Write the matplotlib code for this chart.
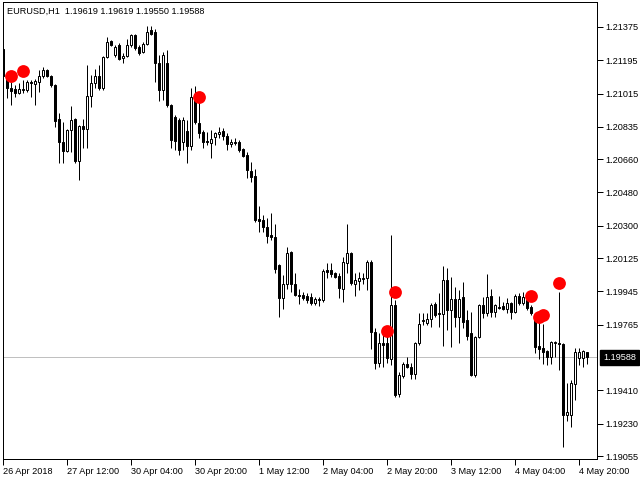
import numpy as np
import matplotlib
matplotlib.use('Agg')
import matplotlib.pyplot as plt
import matplotlib.transforms as mtransforms

symbol_title = 'EURUSD,H1  1.19619 1.19619 1.19550 1.19588'

opens = [1.21256, 1.21099, 1.21045, 1.21040, 1.21018, 1.21034, 1.21034, 1.21078, 1.21067, 1.21078,
         1.21110, 1.21142, 1.21110, 1.21061, 1.20877, 1.20753, 1.20704, 1.20818, 1.20877, 1.20650,
         1.20840, 1.20823, 1.21002, 1.21072, 1.21110, 1.21045, 1.21213, 1.21299, 1.21224, 1.21278,
         1.21207, 1.21218, 1.21278, 1.21332, 1.21267, 1.21240, 1.21283, 1.21359, 1.21348, 1.21180,
         1.21034, 1.21180, 1.20953, 1.20888, 1.20872, 1.20753, 1.20813, 1.20731, 1.20996, 1.20856,
         1.20807, 1.20759, 1.20748, 1.20780, 1.20796, 1.20813, 1.20786, 1.20742, 1.20753, 1.20753,
         1.20715, 1.20683, 1.20596, 1.20569, 1.20337, 1.20331, 1.20293, 1.20250, 1.20239, 1.20088,
         1.19909, 1.19985, 1.20158, 1.19985, 1.19926, 1.19926, 1.19920, 1.19915, 1.19882, 1.19904,
         1.19899, 1.20061, 1.20061, 1.20045, 1.20028, 1.19958, 1.20099, 1.20153, 1.19985, 1.20001,
         1.20012, 1.20018, 1.20104, 1.19725, 1.19558, 1.19666, 1.19666, 1.19579, 1.19872, 1.19390,
         1.19488, 1.19553, 1.19536, 1.19498, 1.19666, 1.19785, 1.19774, 1.19796, 1.19877, 1.19828,
         1.19823, 1.20007, 1.19844, 1.19904, 1.19807, 1.19915, 1.19790, 1.19720, 1.19493, 1.19698,
         1.19872, 1.19828, 1.19920, 1.19834, 1.19861, 1.19866, 1.19850, 1.19882, 1.19834, 1.19920,
         1.19882, 1.19899, 1.19861, 1.19807, 1.19650, 1.19639, 1.19623, 1.19590, 1.19666, 1.19666,
         1.19661, 1.19277, 1.19277, 1.19444, 1.19585, 1.19585, 1.19619]
highs = [1.21299, 1.21132, 1.21078, 1.21061, 1.21072, 1.21088, 1.21088, 1.21088, 1.21094, 1.21142,
         1.21159, 1.21148, 1.21115, 1.21066, 1.20910, 1.20861, 1.20823, 1.20948, 1.20883, 1.20845,
         1.20877, 1.21169, 1.21115, 1.21148, 1.21169, 1.21218, 1.21321, 1.21305, 1.21278, 1.21289,
         1.21234, 1.21310, 1.21337, 1.21337, 1.21278, 1.21294, 1.21380, 1.21380, 1.21364, 1.21224,
         1.21240, 1.21251, 1.20958, 1.20899, 1.20883, 1.20888, 1.20872, 1.21045, 1.21056, 1.20969,
         1.20818, 1.20807, 1.20818, 1.20807, 1.20834, 1.20829, 1.20802, 1.20769, 1.20775, 1.20764,
         1.20721, 1.20699, 1.20645, 1.20607, 1.20407, 1.20358, 1.20342, 1.20369, 1.20310, 1.20093,
         1.20034, 1.20185, 1.20163, 1.20045, 1.19958, 1.19942, 1.19936, 1.19936, 1.19915, 1.19915,
         1.20066, 1.20099, 1.20099, 1.20050, 1.20045, 1.20131, 1.20310, 1.20158, 1.20045, 1.20050,
         1.20045, 1.20115, 1.20115, 1.19747, 1.19720, 1.19747, 1.19720, 1.20250, 1.19899, 1.19509,
         1.19563, 1.19590, 1.19558, 1.19671, 1.19828, 1.19828, 1.19828, 1.19882, 1.19888, 1.19936,
         1.20082, 1.20072, 1.20023, 1.19969, 1.19953, 1.19996, 1.19844, 1.19834, 1.19704, 1.19877,
         1.19915, 1.20039, 1.19958, 1.19877, 1.19920, 1.19888, 1.19909, 1.19888, 1.19931, 1.19936,
         1.19942, 1.19926, 1.19872, 1.19818, 1.19780, 1.19769, 1.19628, 1.19677, 1.19677, 1.19942,
         1.19666, 1.19450, 1.19466, 1.19639, 1.19639, 1.19628, 1.19619]
lows = [1.21099, 1.20991, 1.20953, 1.20996, 1.21013, 1.21018, 1.21023, 1.20996, 1.20953, 1.21023,
        1.21099, 1.21105, 1.21051, 1.20834, 1.20639, 1.20639, 1.20699, 1.20699, 1.20639, 1.20548,
        1.20721, 1.20721, 1.20942, 1.21045, 1.21034, 1.21034, 1.21207, 1.21272, 1.21213, 1.21197,
        1.21180, 1.21213, 1.21267, 1.21251, 1.21224, 1.21234, 1.21278, 1.21332, 1.21078, 1.20975,
        1.20980, 1.20942, 1.20721, 1.20710, 1.20683, 1.20710, 1.20639, 1.20710, 1.20850, 1.20775,
        1.20721, 1.20737, 1.20667, 1.20737, 1.20775, 1.20764, 1.20710, 1.20726, 1.20737, 1.20699,
        1.20672, 1.20558, 1.20537, 1.20320, 1.20266, 1.20266, 1.20207, 1.20223, 1.20045, 1.19807,
        1.19850, 1.19958, 1.19942, 1.19920, 1.19877, 1.19899, 1.19882, 1.19872, 1.19872, 1.19866,
        1.19888, 1.20018, 1.20023, 1.20018, 1.19909, 1.19888, 1.20045, 1.19980, 1.19920, 1.19953,
        1.19985, 1.19953, 1.19634, 1.19525, 1.19536, 1.19536, 1.19558, 1.19547, 1.19374, 1.19374,
        1.19477, 1.19531, 1.19471, 1.19471, 1.19655, 1.19763, 1.19763, 1.19753, 1.19807, 1.19753,
        1.19650, 1.19736, 1.19644, 1.19753, 1.19666, 1.19747, 1.19682, 1.19488, 1.19482, 1.19693,
        1.19801, 1.19812, 1.19807, 1.19807, 1.19850, 1.19844, 1.19828, 1.19796, 1.19828, 1.19872,
        1.19872, 1.19844, 1.19818, 1.19612, 1.19579, 1.19553, 1.19547, 1.19553, 1.19590, 1.19520,
        1.19104, 1.19244, 1.19212, 1.19358, 1.19547, 1.19536, 1.19550]
closes = [1.21110, 1.21045, 1.21029, 1.21018, 1.21040, 1.21040, 1.21078, 1.21072, 1.21083, 1.21110,
          1.21142, 1.21110, 1.21061, 1.20867, 1.20753, 1.20704, 1.20818, 1.20872, 1.20650, 1.20840,
          1.20823, 1.21002, 1.21072, 1.21110, 1.21045, 1.21213, 1.21294, 1.21278, 1.21267, 1.21202,
          1.21218, 1.21278, 1.21332, 1.21261, 1.21234, 1.21283, 1.21348, 1.21337, 1.21180, 1.21034,
          1.21224, 1.20953, 1.20764, 1.20759, 1.20710, 1.20872, 1.20731, 1.20996, 1.20861, 1.20802,
          1.20753, 1.20753, 1.20769, 1.20802, 1.20807, 1.20786, 1.20742, 1.20753, 1.20748, 1.20710,
          1.20677, 1.20602, 1.20564, 1.20331, 1.20326, 1.20293, 1.20245, 1.20239, 1.20066, 1.19909,
          1.19985, 1.20153, 1.19985, 1.19926, 1.19920, 1.19909, 1.19899, 1.19882, 1.19904, 1.19899,
          1.20055, 1.20050, 1.20039, 1.20023, 1.19963, 1.20104, 1.20153, 1.19990, 1.20007, 1.20018,
          1.20018, 1.20104, 1.19725, 1.19558, 1.19666, 1.19655, 1.19585, 1.19872, 1.19385, 1.19493,
          1.19553, 1.19536, 1.19498, 1.19666, 1.19769, 1.19790, 1.19796, 1.19872, 1.19818, 1.19823,
          1.20007, 1.19844, 1.19904, 1.19807, 1.19904, 1.19780, 1.19704, 1.19493, 1.19698, 1.19872,
          1.19828, 1.19915, 1.19834, 1.19872, 1.19855, 1.19850, 1.19882, 1.19834, 1.19920, 1.19882,
          1.19915, 1.19855, 1.19828, 1.19644, 1.19634, 1.19617, 1.19590, 1.19671, 1.19671, 1.19661,
          1.19277, 1.19293, 1.19450, 1.19617, 1.19617, 1.19623, 1.19588]

# signal dots (bar index, price)
signal_bars = [2, 5, 49, 96, 98, 132, 134, 135, 139]
signal_prices = [1.21110, 1.21137, 1.20996, 1.19731, 1.19942, 1.19920, 1.19807, 1.19818, 1.19990]

price_ticks = [1.21375, 1.21195, 1.21015, 1.20835, 1.20660, 1.20480, 1.20300,
               1.20125, 1.19945, 1.19765, 1.19410, 1.19230, 1.19055]
time_labels = ['26 Apr 2018', '27 Apr 12:00', '30 Apr 04:00', '30 Apr 20:00', '1 May 12:00',
               '2 May 04:00', '2 May 20:00', '3 May 12:00', '4 May 04:00', '4 May 20:00']
label_step = 16
last_price = closes[-1]

plt.rcParams['font.family'] = ['Liberation Sans', 'DejaVu Sans']
FS = 6.6
PX = 0.72  # one pixel in points at 100 dpi

o = np.array(opens)
h = np.array(highs)
l = np.array(lows)
c = np.array(closes)
x = np.arange(len(o))
up = c >= o

fig = plt.figure(figsize=(6.4, 4.8), dpi=100)
ax = fig.add_axes([2.5 / 640, 21 / 480, 594.5 / 640, 457 / 480])

ax.axhline(last_price, color='#c0c0c0', lw=PX, zorder=1)
ax.vlines(x, l, h, color='black', lw=PX, zorder=2)
body_low = np.minimum(o, c)
body_h = np.maximum(np.abs(c - o), 1e-6)
ax.bar(x[up], body_h[up], bottom=body_low[up], width=0.45, facecolor='white',
       edgecolor='black', linewidth=PX, zorder=3)
ax.bar(x[~up], body_h[~up], bottom=body_low[~up], width=0.45, facecolor='black',
       edgecolor='black', linewidth=PX, zorder=3)
ax.scatter(signal_bars, signal_prices, s=85, color='#ff0000', linewidths=0, zorder=4)

ax.set_xlim(-0.125, 148.5)
ax.set_ylim(1.19039, 1.21510)

ax.yaxis.tick_right()
ax.set_yticks(price_ticks, labels=['%.5f' % v for v in price_ticks])
ax.tick_params(axis='y', length=4, width=PX, pad=2, labelsize=FS, colors='black')
ax.set_xticks(np.arange(len(time_labels)) * label_step, labels=time_labels)
ax.tick_params(axis='x', length=4, width=PX, pad=2, labelsize=FS)
for lbl in ax.get_xticklabels():
    lbl.set_ha('left')

for sp in ax.spines.values():
    sp.set_linewidth(PX)
    sp.set_color('black')

ax.text(0.0076, 0.989, symbol_title, transform=ax.transAxes, va='top', ha='left', fontsize=FS)

trans = mtransforms.blended_transform_factory(ax.transAxes, ax.transData)
ax.text(1.0101, last_price, '%.5f' % last_price, transform=trans, ha='left', va='center',
        color='white', fontsize=FS,
        bbox=dict(boxstyle='square,pad=0.35', facecolor='black', edgecolor='black'))

fig.savefig('out.png', dpi=100)
